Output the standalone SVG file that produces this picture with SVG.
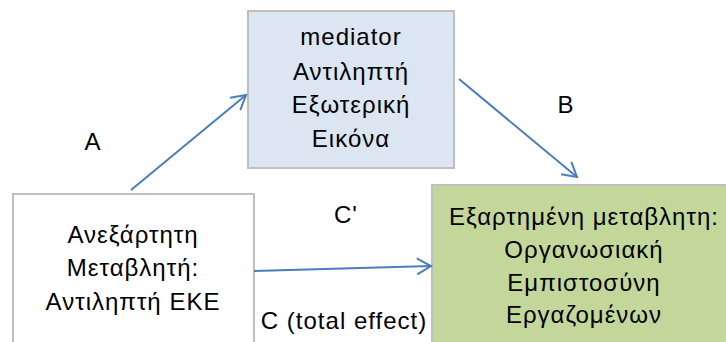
<svg xmlns="http://www.w3.org/2000/svg" width="726" height="342" viewBox="0 0 726 342">
  <style>
    .box { stroke: #BFBFBF; stroke-width: 2; }
    .t { font-family: "Liberation Sans", Arial, sans-serif; font-size: 24px; fill: #000; text-anchor: middle; letter-spacing: 1px; }
    .conn { stroke: #4A7EBB; stroke-width: 2; fill: none; marker-end: url(#arrow); }
  </style>
  <defs>
    <marker id="arrow" viewBox="0 0 20 20" refX="18" refY="10" markerWidth="20" markerHeight="20" markerUnits="userSpaceOnUse" orient="auto">
      <path d="M4,2 L18,10 L4,18" fill="none" stroke="#4A7EBB" stroke-width="2"/>
    </marker>
  </defs>
  <rect width="726" height="342" fill="#FFFFFF"/>

  <g id="independent">
    <rect class="box" x="13" y="194" width="241" height="160" fill="#FFFFFF"/>
    <text class="t" x="133" y="243">Ανεξάρτητη</text>
    <text class="t" x="133" y="276">Μεταβλητή:</text>
    <text class="t" x="133" y="310">Αντιληπτή ΕΚΕ</text>
  </g>

  <g id="mediator">
    <rect class="box" x="248" y="11" width="206" height="157" fill="#DCE6F2"/>
    <text class="t" x="351" y="45">mediator</text>
    <text class="t" x="351" y="80">Αντιληπτή</text>
    <text class="t" x="351" y="113">Εξωτερική</text>
    <text class="t" x="351" y="147">Εικόνα</text>
  </g>

  <g id="dependent">
    <rect class="box" x="432" y="185" width="304" height="170" fill="#C4D79B"/>
    <text class="t" x="584" y="225">Εξαρτημένη μεταβλητη:</text>
    <text class="t" x="584" y="258">Οργανωσιακή</text>
    <text class="t" x="584" y="291">Εμπιστοσύνη</text>
    <text class="t" x="584" y="323">Εργαζομένων</text>
  </g>

  <g id="connectors">
    <line class="conn" x1="131" y1="190" x2="246" y2="95"/>
    <line class="conn" x1="459" y1="79" x2="577" y2="177"/>
    <line class="conn" x1="254" y1="271" x2="431" y2="266"/>
  </g>

  <g id="labels">
    <text class="t" x="93" y="150">A</text>
    <text class="t" x="566" y="113">B</text>
    <text class="t" x="346" y="223">C'</text>
    <text class="t" x="344" y="329">C (total effect)</text>
  </g>
</svg>
